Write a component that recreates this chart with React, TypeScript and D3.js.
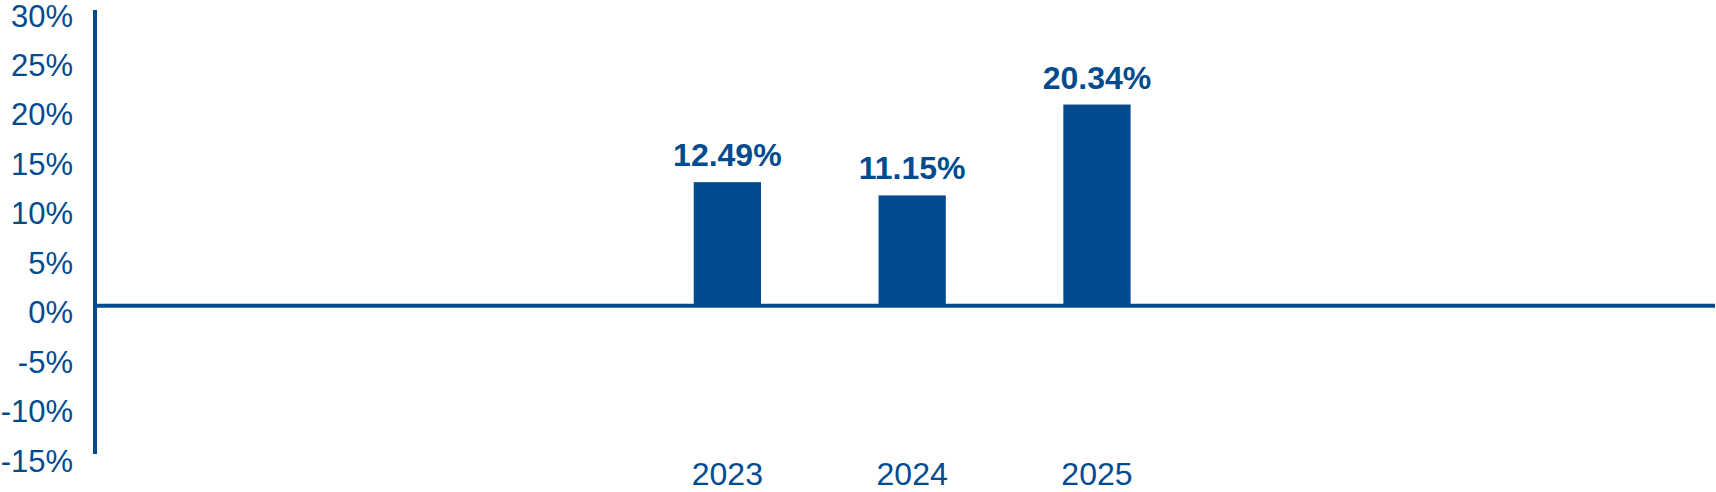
import React from 'react';
import * as d3 from 'd3';

// slots on the category axis, only three of them carry a year and a value
const slotLabels = ['', '', '', '2023', '2024', '2025', '', ''];
const slotValues: (number | null)[] = [null, null, null, 12.49, 11.15, 20.34, null, null];
const valueLabels = ['', '', '', '12.49%', '11.15%', '20.34%', '', ''];
const yTicks = [-15, -10, -5, 0, 5, 10, 15, 20, 25, 30];

const WIDTH = 1716;
const HEIGHT = 492;
const BLUE = '#034b8f';
const FONT = '"Liberation Sans", Arial, Helvetica, sans-serif';

const App: React.FC = () => {
  const axisX = 95;

  const y = d3.scaleLinear().domain([-15, 30]).range([454, 9]);

  const x = d3.scaleBand<number>()
    .domain(d3.range(slotLabels.length))
    .range([axisX, WIDTH - 1])
    .paddingInner(0.636)
    .paddingOuter(0.701)
    .align(0.171);

  const y0 = y(0);
  const cx = (i: number) => (x(i) ?? 0) + x.bandwidth() / 2;

  return (
    <svg
      width={WIDTH}
      height={HEIGHT}
      style={{ position: 'absolute', left: 0, top: 0, background: '#fff' }}
      fontFamily={FONT}
    >
      {/* y tick labels */}
      {yTicks.map(t => (
        <text
          key={t}
          x={73}
          y={y(t) + 17.5}
          textAnchor="end"
          fontSize={31}
          fill={BLUE}
        >
          {`${t}%`}
        </text>
      ))}

      {/* bars */}
      {slotValues.map((v, i) =>
        v == null ? null : (
          <rect
            key={i}
            x={x(i)}
            y={y(v)}
            width={x.bandwidth()}
            height={y0 - y(v)}
            fill={BLUE}
          />
        )
      )}

      {/* value labels */}
      {slotValues.map((v, i) =>
        v == null ? null : (
          <text
            key={i}
            x={cx(i)}
            y={y(v) - 16}
            textAnchor="middle"
            fontSize={32}
            fontWeight="bold"
            fill={BLUE}
          >
            {valueLabels[i]}
          </text>
        )
      )}

      {/* category labels */}
      {slotLabels.map((l, i) =>
        l === '' ? null : (
          <text
            key={i}
            x={cx(i)}
            y={485}
            textAnchor="middle"
            fontSize={32}
            fill={BLUE}
          >
            {l}
          </text>
        )
      )}

      {/* zero line */}
      <line x1={axisX} x2={WIDTH - 1} y1={y0} y2={y0} stroke={BLUE} strokeWidth={4} />
      {/* y axis line */}
      <line x1={axisX} x2={axisX} y1={y(30) + 1} y2={y(-15)} stroke={BLUE} strokeWidth={4} />
    </svg>
  );
};

export default App;
